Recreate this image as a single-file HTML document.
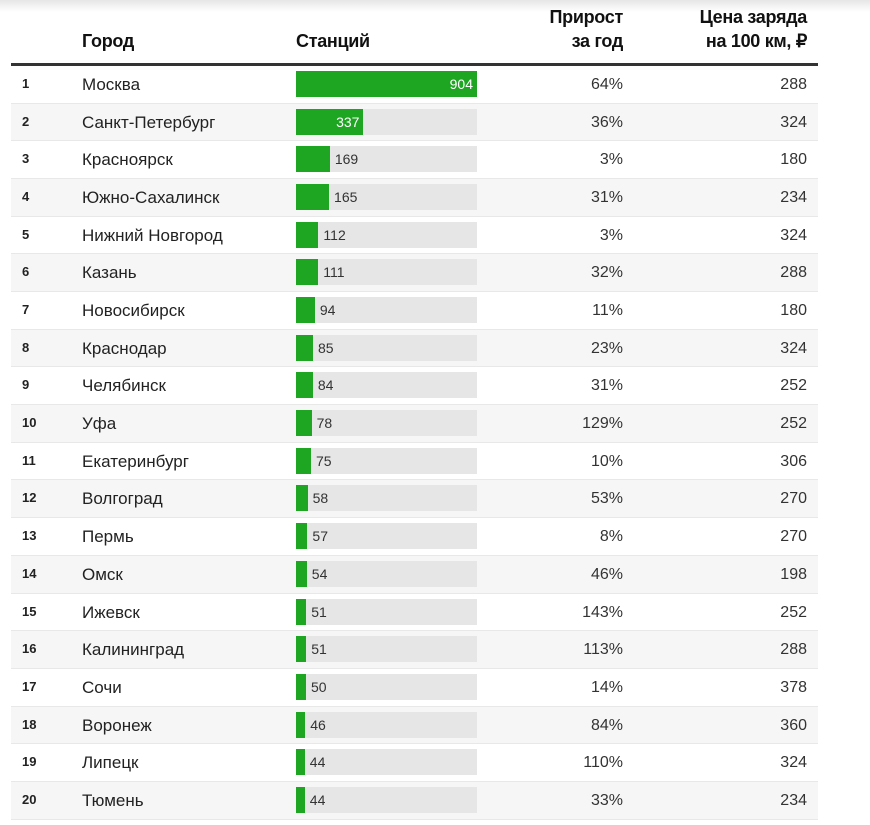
<!DOCTYPE html>
<html><head><meta charset="utf-8">
<style>
body{margin:0;width:870px;height:825px;background:#fff;font-family:"Liberation Sans",Arial,sans-serif;position:relative;overflow:hidden}
.shadow{position:absolute;left:0;top:0;width:870px;height:12px;background:linear-gradient(#e6e6e6,#fff)}
.h{position:absolute;font-weight:bold;font-size:18px;color:#111;line-height:24px;letter-spacing:-0.3px}
.line{position:absolute;left:11px;width:807px;top:63px;height:3px;background:#333}
</style></head><body>
<div class="shadow"></div>
<div class="h" style="left:82px;top:29px">Город</div>
<div class="h" style="left:296px;top:29px">Станций</div>
<div class="h" style="right:247px;top:5px;text-align:right">Прирост<br>за год</div>
<div class="h" style="right:63px;top:5px;text-align:right">Цена заряда<br>на 100 км, ₽</div>
<div class="line"></div>
<div id="rows"></div>
<script>
const cities=["Москва","Санкт-Петербург","Красноярск","Южно-Сахалинск","Нижний Новгород","Казань","Новосибирск","Краснодар","Челябинск","Уфа","Екатеринбург","Волгоград","Пермь","Омск","Ижевск","Калининград","Сочи","Воронеж","Липецк","Тюмень"];
const stations=[904,337,169,165,112,111,94,85,84,78,75,58,57,54,51,51,50,46,44,44];
const growth=[64,36,3,31,3,32,11,23,31,129,10,53,8,46,143,113,14,84,110,33];
const price=[288,324,180,234,324,288,180,324,252,252,306,270,270,198,252,288,378,360,324,234];
const maxV=904, trackW=181, y0=66, pitch=37.68;
const c=document.getElementById('rows');
function xs(v){return v/maxV*trackW;}
cities.forEach((name,i)=>{
  const top=y0+i*pitch;
  const r=document.createElement('div');
  
  
  r.style.cssText=`position:absolute;left:11px;width:807px;top:${top}px;height:${pitch}px;background:${i%2?'#f6f6f6':'#fff'};border-bottom:1px solid #e8e8e8;box-sizing:border-box`;
  const w=xs(stations[i]);
  const inside=w>50;
  r.innerHTML=`<div style="position:absolute;left:11px;top:10px;font-size:13px;font-weight:bold;color:#222">${i+1}</div>
<div style="position:absolute;left:71px;top:9px;font-size:17px;color:#222">${name}</div>
<div style="position:absolute;left:285px;top:5px;width:${trackW}px;height:26px;background:#e6e6e6">
<div style="position:absolute;left:0;top:0;height:26px;width:${w}px;background:#1ea522"></div>
<div style="position:absolute;top:5px;font-size:14px;${inside?`left:0;width:${w-4}px;text-align:right;color:#fff`:`left:${w+5}px;color:#333`}">${stations[i]}</div></div>
<div style="position:absolute;right:195px;top:10px;font-size:16px;color:#333">${growth[i]}%</div>
<div style="position:absolute;right:11px;top:10px;font-size:16px;color:#333">${price[i]}</div>`;
  c.appendChild(r);
});
</script>
</body></html>
